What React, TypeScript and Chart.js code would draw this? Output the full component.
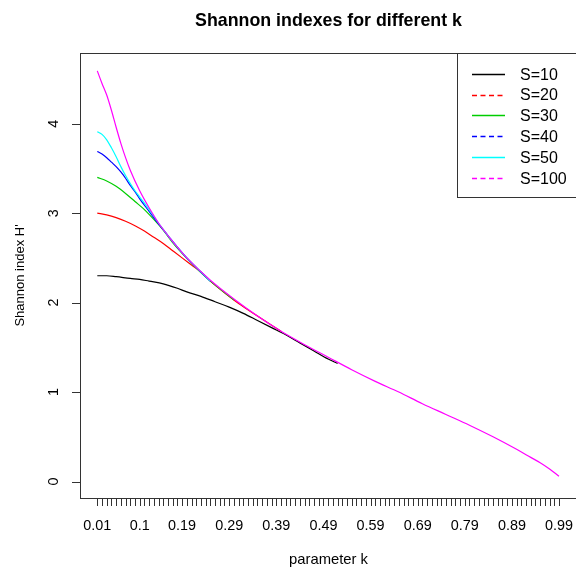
import React, { useEffect, useRef } from "react";
import { Chart, registerables } from "chart.js";

Chart.register(...registerables);

const TITLE = "Shannon indexes for different k";
const X_TITLE = "parameter k";
const Y_TITLE = "Shannon index H'";

const SERIES_NAMES = ["S=10", "S=20", "S=30", "S=40", "S=50", "S=100"];
const SERIES_COLORS = ["#000000", "#FF0000", "#00CD00", "#0000FF", "#00FFFF", "#FF00FF"];
const LEGEND_DASHED = [false, true, false, true, false, true];

const K_S10 = [0.01, 0.03, 0.05, 0.08, 0.10, 0.12, 0.15, 0.18, 0.20, 0.23, 0.26, 0.29, 0.32, 0.35, 0.38, 0.41, 0.44, 0.47, 0.50, 0.52];
const H_S10 = [2.30, 2.30, 2.29, 2.27, 2.26, 2.24, 2.21, 2.16, 2.12, 2.07, 2.01, 1.95, 1.88, 1.80, 1.72, 1.64, 1.55, 1.46, 1.37, 1.32];

const K_S20 = [0.01, 0.03, 0.05, 0.07, 0.09, 0.11, 0.13, 0.15, 0.17, 0.19, 0.21, 0.23, 0.25, 0.28, 0.31, 0.35, 0.40];
const H_S20 = [3.00, 2.98, 2.95, 2.91, 2.86, 2.80, 2.73, 2.66, 2.58, 2.50, 2.42, 2.34, 2.24, 2.11, 1.99, 1.85, 1.68];

const K_S30 = [0.01, 0.03, 0.05, 0.07, 0.09, 0.11, 0.13, 0.15, 0.17, 0.19, 0.21, 0.25, 0.30];
const H_S30 = [3.40, 3.36, 3.30, 3.22, 3.13, 3.04, 2.93, 2.81, 2.67, 2.55, 2.44, 2.24, 2.03];

const K_S40 = [0.01, 0.02, 0.03, 0.04, 0.05, 0.06, 0.07, 0.08, 0.09, 0.10, 0.12, 0.14, 0.16, 0.18, 0.20, 0.25];
const H_S40 = [3.69, 3.66, 3.62, 3.57, 3.52, 3.46, 3.39, 3.31, 3.24, 3.16, 3.02, 2.88, 2.75, 2.62, 2.50, 2.24];

const K_S50 = [0.01, 0.02, 0.03, 0.04, 0.05, 0.06, 0.07, 0.08, 0.09, 0.10, 0.12, 0.14, 0.16, 0.18, 0.20, 0.25];
const H_S50 = [3.91, 3.88, 3.82, 3.73, 3.63, 3.52, 3.42, 3.33, 3.25, 3.18, 3.04, 2.89, 2.75, 2.62, 2.50, 2.24];

const K_S100 = [0.01, 0.02, 0.03, 0.04, 0.05, 0.06, 0.07, 0.08, 0.10, 0.12, 0.14, 0.16, 0.18, 0.20, 0.25, 0.30, 0.35, 0.40, 0.45, 0.50, 0.55, 0.60, 0.65, 0.70, 0.75, 0.80, 0.85, 0.90, 0.93, 0.95, 0.97, 0.99];
const H_S100 = [4.59, 4.45, 4.32, 4.15, 3.96, 3.78, 3.62, 3.48, 3.25, 3.06, 2.89, 2.75, 2.62, 2.50, 2.25, 2.04, 1.85, 1.68, 1.53, 1.39, 1.25, 1.12, 1.00, 0.87, 0.75, 0.63, 0.50, 0.36, 0.27, 0.21, 0.14, 0.06];

const SERIES_K = [K_S10, K_S20, K_S30, K_S40, K_S50, K_S100];
const SERIES_H = [H_S10, H_S20, H_S30, H_S40, H_S50, H_S100];

const X_TICK_COUNT = 99; // one tick per k = 0.01 ... 0.99
const X_LABELS = ["0.01", "0.1", "0.19", "0.29", "0.39", "0.49", "0.59", "0.69", "0.79", "0.89", "0.99"];
const Y_TICKS = [0, 1, 2, 3, 4];

const FONT = "'Liberation Sans', Arial, Helvetica, sans-serif";

const decorPlugin = {
  id: "rDecor",
  beforeDraw(chart: any) {
    const ctx = chart.ctx;
    ctx.save();
    ctx.fillStyle = "#ffffff";
    ctx.fillRect(0, 0, chart.width, chart.height);
    ctx.restore();
  },
  afterDraw(chart: any) {
    const ctx = chart.ctx;
    const { left, top, bottom } = chart.chartArea;
    const xs = chart.scales.x;
    const ys = chart.scales.y;
    ctx.save();
    ctx.strokeStyle = "#333333";
    ctx.lineWidth = 1;
    // plot box
    ctx.strokeRect(Math.round(left) + 0.5, Math.round(top) + 0.5, 600, Math.round(bottom - top));

    // x ticks
    ctx.beginPath();
    for (let i = 1; i <= X_TICK_COUNT; i++) {
      const px = Math.round(xs.getPixelForValue(i / 100)) + 0.5;
      ctx.moveTo(px, bottom);
      ctx.lineTo(px, bottom + 8);
    }
    // y ticks
    for (const v of Y_TICKS) {
      const py = Math.round(ys.getPixelForValue(v)) + 0.5;
      ctx.moveTo(left, py);
      ctx.lineTo(left - 8, py);
    }
    ctx.stroke();

    ctx.fillStyle = "#000000";
    // x tick labels
    ctx.font = `14.4px ${FONT}`;
    ctx.textAlign = "center";
    ctx.textBaseline = "alphabetic";
    for (const lab of X_LABELS) {
      const px = xs.getPixelForValue(parseFloat(lab));
      ctx.fillText(lab, px, 530);
    }
    // y tick labels (rotated, R style)
    for (const v of Y_TICKS) {
      const py = ys.getPixelForValue(v);
      ctx.save();
      ctx.translate(57.5, py);
      ctx.rotate(-Math.PI / 2);
      ctx.fillText(String(v), 0, 0);
      ctx.restore();
    }
    // axis titles
    ctx.font = `14.8px ${FONT}`;
    ctx.fillText(X_TITLE, 328.5, 564);
    ctx.save();
    ctx.font = `13px ${FONT}`;
    ctx.translate(23.5, (top + bottom) / 2);
    ctx.rotate(-Math.PI / 2);
    ctx.fillText(Y_TITLE, 0, 0);
    ctx.restore();

    // main title
    ctx.font = `bold 17.8px ${FONT}`;
    ctx.fillText(TITLE, 328.5, 26);

    // legend
    const lx = 457.5;
    const ly = Math.round(top) + 0.5;
    ctx.fillStyle = "#ffffff";
    ctx.fillRect(lx, ly, 200, 144);
    ctx.strokeStyle = "#333333";
    ctx.strokeRect(lx, ly, 200, 144);
    ctx.font = `16px ${FONT}`;
    ctx.textAlign = "left";
    for (let i = 0; i < SERIES_NAMES.length; i++) {
      const ry = 73.8 + i * 20.8;
      ctx.beginPath();
      ctx.strokeStyle = SERIES_COLORS[i];
      ctx.lineWidth = 1.4;
      ctx.setLineDash(LEGEND_DASHED[i] ? [5, 3.5] : []);
      ctx.moveTo(472, Math.round(ry) + 0.5);
      ctx.lineTo(505, Math.round(ry) + 0.5);
      ctx.stroke();
      ctx.setLineDash([]);
      ctx.fillStyle = "#000000";
      ctx.fillText(SERIES_NAMES[i], 520, ry + 5.7);
    }
    ctx.restore();
  },
};

export default function App() {
  const canvasRef = useRef<HTMLCanvasElement | null>(null);

  useEffect(() => {
    const canvas = canvasRef.current;
    if (!canvas) return;
    const datasets = SERIES_NAMES.map((name, i) => ({
      label: name,
      data: SERIES_K[i].map((k, j) => ({ x: k, y: SERIES_H[i][j] })),
      borderColor: SERIES_COLORS[i],
      backgroundColor: SERIES_COLORS[i],
      borderWidth: 1.2,
      pointRadius: 0,
      fill: false,
      cubicInterpolationMode: "monotone" as const,
      order: SERIES_NAMES.length - i,
    }));
    const chart = new Chart(canvas, {
      type: "line",
      data: { datasets },
      options: {
        animation: false,
        responsive: false,
        devicePixelRatio: 1,
        layout: { padding: { left: 80, top: 53, right: 0, bottom: 71 } },
        plugins: {
          legend: { display: false },
          title: { display: false },
          tooltip: { enabled: false },
        },
        scales: {
          x: { type: "linear", display: false, min: -0.0267, max: 1.0261 },
          y: { type: "linear", display: false, min: -0.184, max: 4.79 },
        },
      },
      plugins: [decorPlugin],
    });
    return () => chart.destroy();
  }, []);

  return (
    <div style={{ position: "absolute", left: 0, top: 0, width: 576, height: 569, background: "#fff" }}>
      <canvas ref={canvasRef} width={576} height={569} style={{ display: "block", width: 576, height: 569 }} />
    </div>
  );
}
